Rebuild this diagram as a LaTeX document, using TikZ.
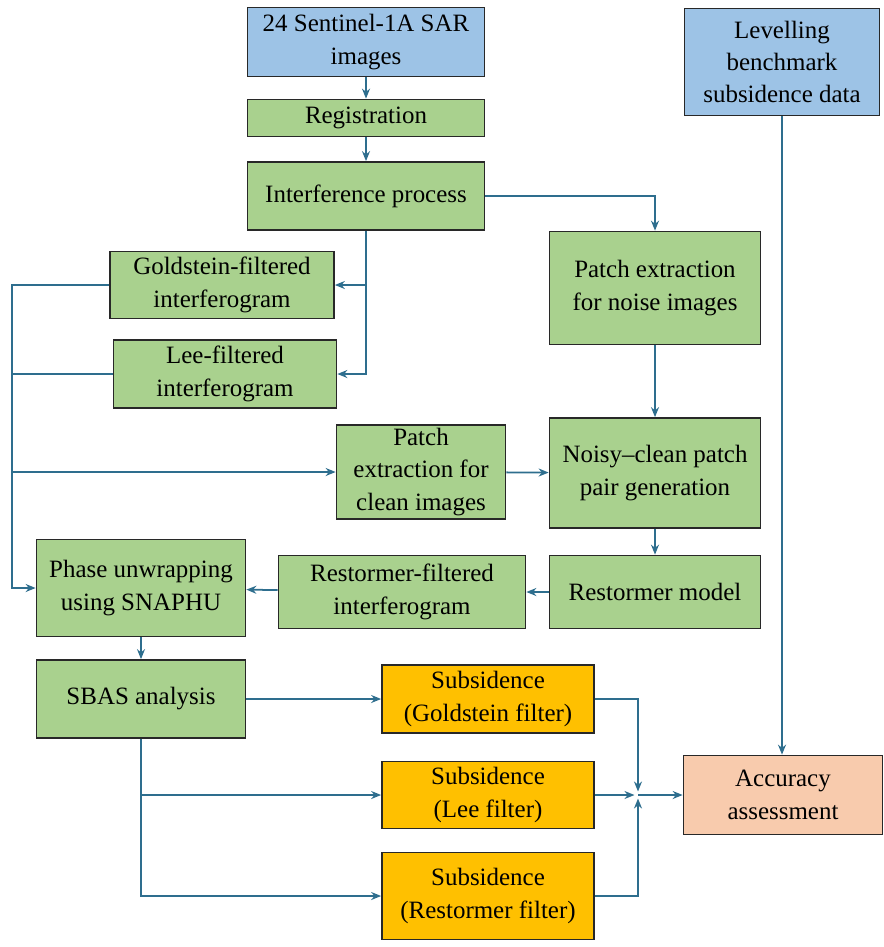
\documentclass[tikz,border=0pt]{standalone}
\usepackage{fontspec}
\setmainfont{Liberation Serif}
\usepackage{xcolor}
\definecolor{linkblue}{RGB}{46, 110, 142}
\definecolor{boxgreen}{RGB}{169, 209, 142}
\definecolor{boxblue}{RGB}{157, 195, 230}
\definecolor{boxorange}{RGB}{255, 192, 0}
\definecolor{boxsalmon}{RGB}{248, 203, 173}
\definecolor{edgegray}{RGB}{40, 40, 40}
\usetikzlibrary{arrows.meta,positioning,calc}

\begin{document}
\begin{tikzpicture}[
    x=0.02cm, y=-0.02cm,
    box/.style={
        rectangle,
        draw=edgegray,
        line width=1pt,
        align=center,
        inner sep=2pt,
        font=\rmfamily\fontsize{14.2}{18.4}\selectfont
    },
    green/.style={box, fill=boxgreen},
    blue/.style={box, fill=boxblue},
    orange/.style={box, fill=boxorange},
    salmon/.style={box, fill=boxsalmon},
    arrow/.style={-{Stealth[length=2mm,width=1.6mm]}, draw=linkblue, line width=1pt},
    wire/.style={draw=linkblue, line width=1pt}
]
    \useasboundingbox (0,0) rectangle (883,947);

    % Input data
    \node[blue, minimum width=4.74cm, minimum height=1.38cm] (sar) at (366,42) {24 Sentinel-1A SAR\\images};
    \node[blue, minimum width=3.9cm, minimum height=2.14cm] (level) at (782,62) {Levelling\\benchmark\\subsidence data};

    % Interferometric processing
    \node[green, minimum width=4.74cm, minimum height=0.74cm] (reg) at (366,118) {Registration};
    \node[green, minimum width=4.74cm, minimum height=1.36cm] (interf) at (366,196) {Interference process};
    \node[green, minimum width=4.48cm, minimum height=1.34cm] (gold) at (222,285) {Goldstein-filtered\\interferogram};
    \node[green, minimum width=4.46cm, minimum height=1.36cm] (lee) at (225,374) {Lee-filtered\\interferogram};

    % Restormer branch
    \node[green, minimum width=4.22cm, minimum height=2.26cm] (pnoise) at (655,288) {Patch extraction\\for noise images};
    \node[green, minimum width=3.38cm, minimum height=1.88cm] (pclean) at (421,472) {Patch\\extraction for\\clean images};
    \node[green, minimum width=4.22cm, minimum height=2.2cm] (pair) at (655,473) {Noisy--clean patch\\pair generation};
    \node[green, minimum width=4.22cm, minimum height=1.46cm] (model) at (655,592) {Restormer model};
    \node[green, minimum width=4.94cm, minimum height=1.46cm] (rest) at (402,592) {Restormer-filtered\\interferogram};

    % Time series
    \node[green, minimum width=4.18cm, minimum height=1.94cm] (phase) at (141,588) {Phase unwrapping\\using SNAPHU};
    \node[green, minimum width=4.18cm, minimum height=1.56cm] (sbas) at (141,699) {SBAS analysis};

    % Results
    \node[orange, minimum width=4.24cm, minimum height=1.36cm] (subg) at (488,699) {Subsidence\\(Goldstein filter)};
    \node[orange, minimum width=4.24cm, minimum height=1.34cm] (subl) at (488,795) {Subsidence\\(Lee filter)};
    \node[orange, minimum width=4.24cm, minimum height=1.74cm] (subr) at (488,896) {Subsidence\\(Restormer filter)};
    \node[salmon, minimum width=3.98cm, minimum height=1.58cm] (acc) at (783,795) {Accuracy\\assessment};

    \coordinate (bus) at (13,472);
    \coordinate (join) at (638,795);

    % Connectors
    \draw[arrow] (sar) -- (reg);
    \draw[arrow] (reg) -- (interf);
    \draw[arrow] (interf.east) -| (pnoise.north);
    \draw[arrow] (interf.south) |- (gold.east);
    \draw[arrow] (interf.south) |- (lee.east);
    \draw[arrow] (gold.west) -- ++(-97,0) |- (phase.west);
    \draw[wire] (lee.west) -- ++(-101,0);
    \draw[arrow] (bus) -- (pclean.west);
    \draw[arrow] (pnoise) -- (pair);
    \draw[arrow] (pclean) -- (pair);
    \draw[arrow] (pair) -- (model);
    \draw[arrow] (model) -- (rest);
    \draw[arrow] (rest) -- (phase);
    \draw[arrow] (phase) -- (sbas);
    \draw[arrow] (sbas) -- (subg);
    \draw[arrow] (sbas.south) |- (subl.west);
    \draw[arrow] (sbas.south) |- (subr.west);
    \draw[arrow, shorten >=2pt] (subg.east) -| (join);
    \draw[arrow, shorten >=2pt] (subl.east) -- (join);
    \draw[arrow, shorten >=2pt] (subr.east) -| (join);
    \draw[arrow] (join) -- (acc.west);
    \draw[arrow] (level.south) -- (level.south |- acc.north);
\end{tikzpicture}
\end{document}
